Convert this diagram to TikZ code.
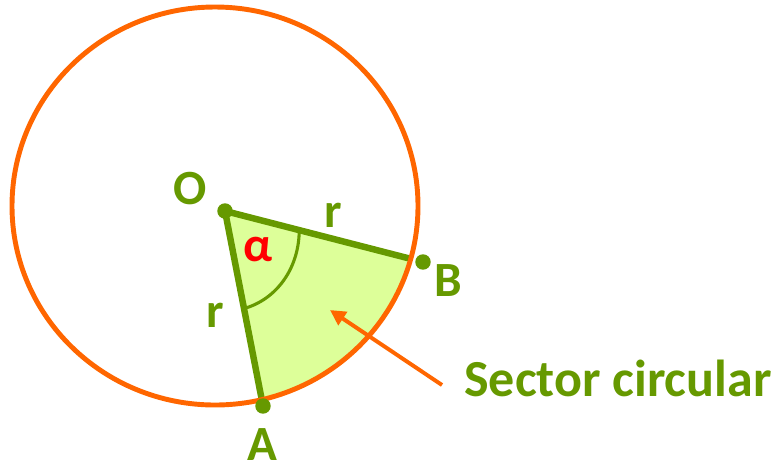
\documentclass[tikz,border=0pt]{standalone}
\usepackage{fontspec}
\setmainfont{Carlito}
\usepackage{tikz}
\usepackage{xcolor}
\usetikzlibrary{arrows.meta, calc}
\definecolor{leafgreen}{HTML}{669900}
\definecolor{sectorfill}{HTML}{DDFF99}
\definecolor{rimorange}{HTML}{FF6600}

\begin{document}
\begin{tikzpicture}[x=0.025cm, y=-0.025cm, line width=4.6pt,
    lbl/.style={font=\bfseries\fontsize{35}{35}\selectfont, text=leafgreen, inner sep=0pt},
    dot/.style={circle, fill=leafgreen, minimum size=11pt, inner sep=0pt}]
    \useasboundingbox (0,0) rectangle (780,470);
    \coordinate (C) at (215,206);
    \coordinate (O) at (225,211);
    \coordinate (A) at (263,406);
    \coordinate (B) at (423,262);
    % sector, cut off by the circle
    \begin{scope}
        \clip (C) ellipse [x radius=203, y radius=199];
        \fill[sectorfill] (O) -- ($(O)!1.3!(A)$) -- ($(O)!1.5!($(A)!0.5!(B)$)$) -- ($(O)!1.3!(B)$) -- cycle;
        \draw[leafgreen] (O) -- (A);
        \draw[leafgreen] (O) -- (B);
    \end{scope}
    \draw[rimorange, line width=3.5pt] (C) ellipse [x radius=203, y radius=199];
    % angle mark
    \draw[leafgreen, line width=2.2pt] ($(O)!0.375!(B)$) .. controls (299,270) and (275,300) .. ($(O)!0.5!(A)$);
    \node[dot] (Odot) at (O) {};
    \node[dot] (Adot) at (A) {};
    \node[dot] (Bdot) at (B) {};
    % labels
    \node[lbl] (Olbl) at (190,189) {O};
    \node[lbl] (Albl) at (262,445) {A};
    \node[lbl] (Blbl) at (448,281) {B};
    \node[lbl] (rOB) at (333,215) {r};
    \node[lbl] (rOA) at (215,315) {r};
    \node[lbl, text=red] (alpha) at (258,250) {α};
    \node[lbl, font=\bfseries\fontsize{37}{37}\selectfont] (name) at (618,378) {Sector circular};
    \coordinate (tail) at (442,385);
    \coordinate (tip) at (330,310);
    \draw[rimorange, line width=2.8pt, -{Triangle[length=11pt,width=11pt]}] (tail) -- (tip);
\end{tikzpicture}
\end{document}
